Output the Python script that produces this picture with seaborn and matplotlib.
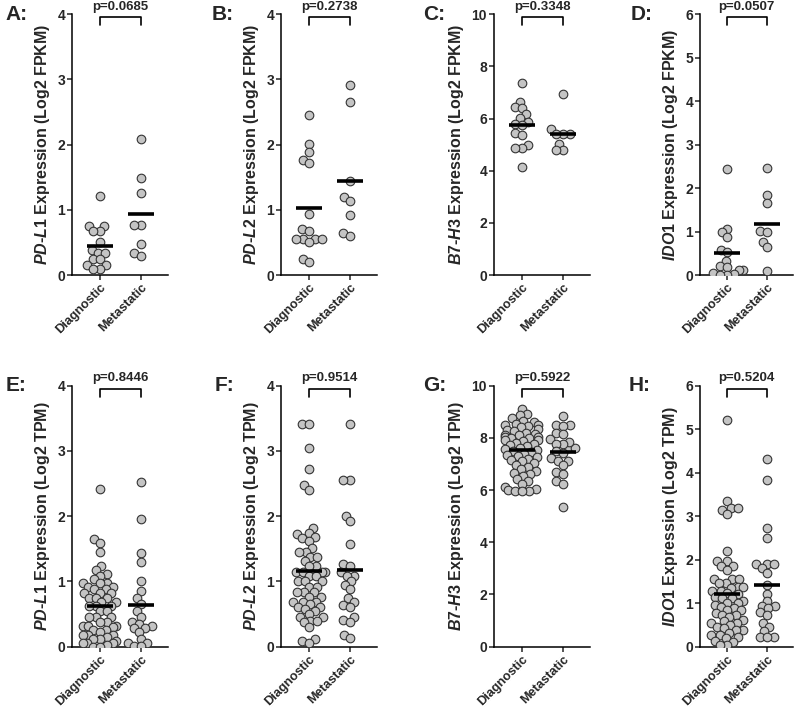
import warnings
import numpy as np
import pandas as pd
import matplotlib
matplotlib.use("Agg")
import matplotlib.pyplot as plt
import seaborn as sns

warnings.filterwarnings("ignore")

groups = ["Diagnostic", "Metastatic"]

# FPKM (top row)
pdl1_fpkm_diag = [1.21, 0.75, 0.75, 0.67, 0.67, 0.50, 0.39, 0.34, 0.34, 0.24, 0.24, 0.15, 0.15, 0.10, 0.10]
pdl1_fpkm_meta = [2.09, 1.49, 1.26, 0.77, 0.77, 0.47, 0.34, 0.30]
pdl2_fpkm_diag = [2.46, 2.01, 1.89, 1.77, 1.72, 0.94, 0.71, 0.68, 0.56, 0.56, 0.56, 0.56, 0.50, 0.25, 0.20]
pdl2_fpkm_meta = [2.92, 2.65, 1.45, 1.19, 1.13, 0.92, 0.64, 0.60]
b7h3_fpkm_diag = [7.38, 6.64, 6.44, 6.39, 6.16, 6.01, 5.88, 5.78, 5.76, 5.44, 5.37, 4.99, 4.87, 4.87, 4.13]
b7h3_fpkm_meta = [6.93, 5.59, 5.42, 5.40, 5.40, 5.02, 4.80, 4.80]
ido1_fpkm_diag = [2.43, 1.07, 0.98, 0.88, 0.58, 0.52, 0.33, 0.22, 0.18, 0.12, 0.12, 0.05, 0.02, 0.01, 0.01]
ido1_fpkm_meta = [2.46, 1.84, 1.65, 1.02, 1.00, 0.77, 0.64, 0.10]

# TPM (bottom row)
pdl1_tpm_diag = [2.42, 1.65, 1.59, 1.45, 1.24, 1.17, 1.12, 1.09, 1.03, 0.98, 0.98, 0.98,
                 0.92, 0.92, 0.88, 0.88, 0.82, 0.82, 0.82, 0.74, 0.74, 0.74, 0.68, 0.68,
                 0.62, 0.62, 0.62, 0.54, 0.54, 0.46, 0.46, 0.46, 0.38, 0.38, 0.32, 0.32,
                 0.32, 0.30, 0.26, 0.26, 0.22, 0.18, 0.18, 0.18, 0.14, 0.11, 0.11, 0.08,
                 0.05, 0.05, 0.05, 0.02, 0.0, 0.0]
pdl1_tpm_meta = [2.52, 1.96, 1.44, 1.29, 1.00, 0.85, 0.74, 0.66, 0.54, 0.46, 0.38,
                 0.34, 0.32, 0.28, 0.28, 0.22, 0.12, 0.06, 0.06, 0.01, 0.01]
pdl2_tpm_diag = [3.41, 3.41, 3.05, 2.72, 2.47, 2.40, 1.82, 1.74, 1.72, 1.68, 1.66, 1.62,
                 1.51, 1.45, 1.45, 1.37, 1.37, 1.31, 1.23, 1.23, 1.15, 1.15, 1.15, 1.15,
                 1.09, 1.09, 1.00, 1.00, 1.00, 0.92, 0.92, 0.83, 0.83, 0.83, 0.76, 0.76,
                 0.69, 0.69, 0.69, 0.65, 0.61, 0.61, 0.58, 0.54, 0.50, 0.46, 0.46, 0.40,
                 0.40, 0.37, 0.30, 0.11, 0.09, 0.05]
pdl2_tpm_meta = [3.41, 2.55, 2.55, 2.00, 1.92, 1.57, 1.26, 1.23, 1.15, 1.09, 1.08, 1.00,
                 0.95, 0.88, 0.74, 0.69, 0.64, 0.61, 0.46, 0.41, 0.38, 0.18, 0.13]
b7h3_tpm_diag = [9.12, 8.92, 8.88, 8.77, 8.65, 8.60, 8.55, 8.50, 8.48, 8.45, 8.40, 8.33,
                 8.30, 8.28, 8.20, 8.15, 8.10, 8.10, 8.05, 8.02, 8.00, 7.98, 7.92, 7.90,
                 7.88, 7.82, 7.78, 7.72, 7.68, 7.62, 7.58, 7.55, 7.50, 7.45, 7.40, 7.35,
                 7.30, 7.25, 7.20, 7.15, 7.10, 7.02, 6.95, 6.88, 6.80, 6.72, 6.65, 6.60,
                 6.55, 6.42, 6.35, 6.25, 6.10, 6.05, 6.02, 5.98, 5.95, 5.95]
b7h3_tpm_meta = [8.83, 8.51, 8.51, 8.45, 8.20, 7.60, 8.16, 7.94, 7.60, 7.85, 7.78, 7.78,
                 7.50, 7.42, 7.22, 7.12, 7.12, 6.95, 6.70, 6.61, 6.33, 6.23, 5.34]
ido1_tpm_diag = [5.22, 3.34, 3.18, 3.18, 3.15, 3.05, 2.19, 1.98, 1.98, 1.86, 1.86, 1.77,
                 1.55, 1.55, 1.55, 1.46, 1.46, 1.38, 1.38, 1.35, 1.29, 1.29, 1.23, 1.20,
                 1.15, 1.11, 1.11, 1.05, 1.01, 1.01, 0.95, 0.92, 0.88, 0.84, 0.84, 0.78,
                 0.73, 0.73, 0.68, 0.61, 0.58, 0.54, 0.54, 0.50, 0.45, 0.42, 0.38, 0.38,
                 0.32, 0.27, 0.27, 0.22, 0.19, 0.14, 0.10, 0.04, 0.04]
ido1_tpm_meta = [4.31, 3.84, 2.72, 2.49, 1.90, 1.90, 1.90, 1.80, 1.69, 1.42, 1.21, 1.04,
                 0.94, 0.94, 0.88, 0.79, 0.73, 0.55, 0.46, 0.35, 0.21, 0.21, 0.21]

genes = [r"$\mathit{PD}$-$\mathit{L1}$", r"$\mathit{PD}$-$\mathit{L2}$",
         r"$\mathit{B7}$-$\mathit{H3}$", r"$\mathit{IDO1}$"]
p_fpkm = ["p=0.0685", "p=0.2738", "p=0.3348", "p=0.0507"]
p_tpm = ["p=0.8446", "p=0.9514", "p=0.5922", "p=0.5204"]
ymax = [4, 4, 10, 6]
ystep = [1, 1, 2, 1]

sns.set_style("ticks")
plt.rcParams["font.family"] = ["Liberation Sans", "DejaVu Sans"]
plt.rcParams["font.weight"] = "bold"
plt.rcParams["mathtext.fontset"] = "custom"
plt.rcParams["mathtext.it"] = "Liberation Sans:italic:bold"
plt.rcParams["mathtext.rm"] = "Liberation Sans:bold"
plt.rcParams["mathtext.bf"] = "Liberation Sans:bold"

fig = plt.figure(figsize=(8, 7.09), dpi=100)

lefts = [0.09, 0.35125, 0.6175, 0.875]
widths = [0.12, 0.12, 0.12, 0.116]
bottoms = [0.612, 0.088]
height = 0.368
letters = [["A:", "B:", "C:", "D:"], ["E:", "F:", "G:", "H:"]]
letter_x = [[5, 212, 423, 631], [6, 215, 423, 629]]
letter_y = [15, 385]

data = [
    [(pdl1_fpkm_diag, pdl1_fpkm_meta), (pdl2_fpkm_diag, pdl2_fpkm_meta),
     (b7h3_fpkm_diag, b7h3_fpkm_meta), (ido1_fpkm_diag, ido1_fpkm_meta)],
    [(pdl1_tpm_diag, pdl1_tpm_meta), (pdl2_tpm_diag, pdl2_tpm_meta),
     (b7h3_tpm_diag, b7h3_tpm_meta), (ido1_tpm_diag, ido1_tpm_meta)],
]
units = ["(Log2 FPKM)", "(Log2 TPM)"]
pvals = [p_fpkm, p_tpm]

swarms = []
for r in range(2):
    for c in range(4):
        ax = fig.add_axes([lefts[c], bottoms[r], widths[c], height])
        diag, meta = data[r][c]
        df = pd.DataFrame({
            "group": [groups[0]] * len(diag) + [groups[1]] * len(meta),
            "value": list(diag) + list(meta),
        })
        # lay the swarm out with a smaller dot so the dots overlap like the original
        sns.swarmplot(data=df, x="group", y="value", order=groups, ax=ax,
                      color="#c4c4c4", edgecolor="#333333", linewidth=0.8, size=4.0)
        swarms.extend(ax.collections)
        sns.pointplot(data=df, x="group", y="value", order=groups, ax=ax,
                      estimator="mean", errorbar=None, color="black",
                      markers="_", markersize=19, markeredgewidth=2.6,
                      linestyle="none", zorder=5)
        ax.set_xlim(-0.68, 1.66)
        ax.set_ylim(0, ymax[c])
        ax.set_yticks(np.arange(0, ymax[c] + 0.01, ystep[c]))
        ax.set_xticks([0, 1])
        ax.set_xticklabels(groups, rotation=45, ha="right", rotation_mode="anchor",
                           fontsize=9.2, fontweight="bold")
        ax.tick_params(axis="y", labelsize=10, width=1.1, length=3.5, pad=1.5)
        ax.tick_params(axis="x", width=1.1, length=3.5, pad=1.2)
        for lab in ax.get_yticklabels():
            lab.set_fontweight("bold")
        ax.set_xlabel("")
        ax.set_ylabel(genes[c] + " Expression " + units[r], fontsize=11.5,
                      fontweight="bold", labelpad=4)
        sns.despine(ax=ax)
        for sp in ["left", "bottom"]:
            ax.spines[sp].set_linewidth(1.1)
            ax.spines[sp].set_color("black")

        # significance bracket
        tr = ax.get_xaxis_transform()
        ax.plot([0, 0, 1, 1], [0.957, 0.988, 0.988, 0.957], color="black",
                lw=1.2, transform=tr, clip_on=False)
        ax.text(0.5, 1.005, pvals[r][c], transform=tr, ha="center", va="bottom",
                fontsize=9.5, fontweight="bold")

        fig.text(letter_x[r][c] / 800, 1 - letter_y[r] / 709, letters[r][c],
                 fontsize=15, fontweight="bold", va="center", ha="left")

# compute swarm positions once, then freeze them and enlarge the dots
fig.canvas.draw()
for coll in swarms:
    if "draw" in coll.__dict__:
        del coll.draw
    coll.set_sizes([6.2 ** 2])

fig.savefig("out.png", dpi=100)
